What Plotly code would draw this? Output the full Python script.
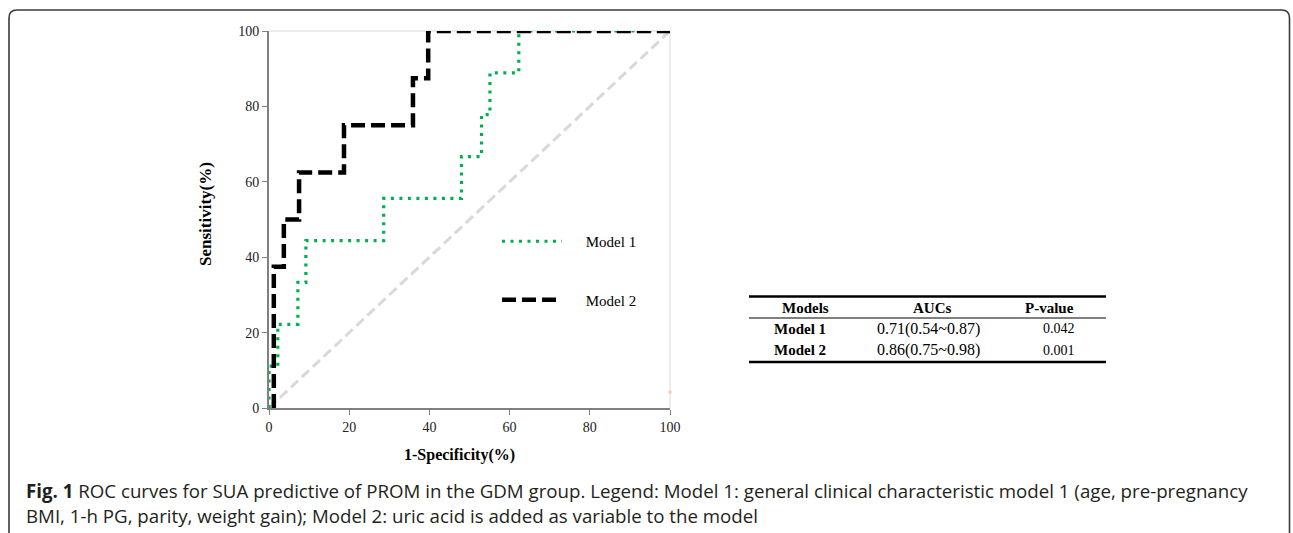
import plotly.graph_objects as go

# ---------------- data ----------------
m1_fpr = [0, 0, 2.2, 2.2, 7.2, 7.2, 9.2, 9.2, 28.6, 28.6, 48.0, 48.0, 53.0, 53.0, 55.1, 55.1, 62.3, 62.3, 100]
m1_sens = [0, 11.1, 11.1, 22.2, 22.2, 33.3, 33.3, 44.4, 44.4, 55.6, 55.6, 66.7, 66.7, 77.8, 77.8, 88.9, 88.9, 100, 100]

m2_fpr = [1.2, 1.2, 3.7, 3.7, 7.5, 7.5, 18.7, 18.7, 35.9, 35.9, 39.7, 39.7, 100]
m2_sens = [0, 37.5, 37.5, 50, 50, 62.5, 62.5, 75, 75, 87.5, 87.5, 100, 100]

ref_x = [0, 100]
ref_y = [0, 100]

stray_x = [100]
stray_y = [4.2]

tick_vals = [0, 20, 40, 60, 80, 100]
tick_text = ["0", "20", "40", "60", "80", "100"]

series_names = ["Model 1", "Model 2"]

table_header = ["Models", "AUCs", "P-value"]
table_models = ["Model 1", "Model 2"]
table_aucs = ["0.71(0.54~0.87)", "0.86(0.75~0.98)"]
table_p = ["0.042", "0.001"]

caption_line1 = ("<b>Fig. 1</b> ROC curves for SUA predictive of PROM in the GDM group. Legend: Model 1: "
                 "general clinical characteristic model 1 (age, pre-pregnancy")
caption_line2 = "BMI, 1-h PG, parity, weight gain); Model 2: uric acid is added as variable to the model"

# ---------------- layout geometry ----------------
W, H = 1293, 533
PL, PR, PT, PB = 269, 670, 31, 408  # plot area in pixels


def px(x):
    return (x - PL) / (PR - PL)


def py(y):
    return (PB - y) / (PB - PT)


SERIF = "Liberation Serif, Times New Roman, serif"
PAD = "\u00a0" * 5

fig = go.Figure()

fig.add_trace(go.Scatter(
    x=ref_x, y=ref_y, mode="lines", showlegend=False, hoverinfo="skip",
    line=dict(color="#d9d9d9", width=3, dash="10px,5px")))

fig.add_trace(go.Scatter(
    x=m1_fpr, y=m1_sens, mode="lines", name=PAD + series_names[0], legendgroup="g1",
    line=dict(color="#00b050", width=3.2, dash="3px,5.5px")))

fig.add_trace(go.Scatter(
    x=m2_fpr, y=m2_sens, mode="lines", name=PAD + series_names[1], legendgroup="g2",
    line=dict(color="#000000", width=4.5, dash="14px,6px")))

fig.add_trace(go.Scatter(
    x=stray_x, y=stray_y, mode="markers", showlegend=False, hoverinfo="skip", cliponaxis=False,
    marker=dict(color="#f8cbad", size=3, symbol="square")))

axis_common = dict(
    showgrid=False, zeroline=False, showline=True, linecolor="#808080", linewidth=2,
    ticks="outside", ticklen=5, tickcolor="#808080", tickwidth=1,
    tickfont=dict(family=SERIF, size=14, color="#222222"),
    tickvals=tick_vals, ticktext=tick_text, fixedrange=True,
)

fig.update_xaxes(range=[0, 100], **axis_common)
fig.update_yaxes(range=[0, 100], **axis_common)

shapes = []
# light top/right borders of plot area
shapes.append(dict(type="line", xref="paper", yref="paper", x0=0, x1=1, y0=1, y1=1,
                   line=dict(color="#d9d9d9", width=1), layer="below"))
shapes.append(dict(type="line", xref="paper", yref="paper", x0=1, x1=1, y0=0, y1=1,
                   line=dict(color="#d9d9d9", width=1), layer="below"))

# table rules
TX0, TX1 = 749, 1106
for yy, w in [(296.5, 2.5), (318, 1), (362, 2.5)]:
    shapes.append(dict(type="line", xref="paper", yref="paper", x0=px(TX0), x1=px(TX1),
                       y0=py(yy), y1=py(yy), line=dict(color="#000000", width=w)))

# rounded frame around the figure
r = 8
fx0, fx1, fy0, fyb = 9, 1289.5, 10, 560
path = (f"M {px(fx0)},{py(fyb)} L {px(fx0)},{py(fy0 + r)} "
        f"Q {px(fx0)},{py(fy0)} {px(fx0 + r)},{py(fy0)} "
        f"L {px(fx1 - r)},{py(fy0)} "
        f"Q {px(fx1)},{py(fy0)} {px(fx1)},{py(fy0 + r)} "
        f"L {px(fx1)},{py(fyb)}")
shapes.append(dict(type="path", xref="paper", yref="paper", path=path,
                   line=dict(color="#3a3a3a", width=1.6)))

annotations = []
# axis titles
annotations.append(dict(text="<b>1-Specificity(%)</b>", xref="paper", yref="paper",
                        x=px(459), y=py(455), showarrow=False, xanchor="center", yanchor="middle",
                        font=dict(family=SERIF, size=16, color="#000000")))
annotations.append(dict(text="<b>Sensitivity(%)</b>", xref="paper", yref="paper",
                        x=px(205), y=py(214), showarrow=False, xanchor="center", yanchor="middle",
                        textangle=-90, font=dict(family=SERIF, size=17, color="#000000")))

# table text
col_x = [805, 932, 1049]
val_x = [800, 928, 1059]
TFONT = dict(family=SERIF, size=15, color="#000000")
for i, h in enumerate(table_header):
    annotations.append(dict(text=f"<b>{h}</b>", xref="paper", yref="paper", x=px(col_x[i]), y=py(307.5),
                            showarrow=False, xanchor="center", yanchor="middle", font=TFONT))
for i, yy in enumerate([328.5, 350]):
    annotations.append(dict(text=f"<b>{table_models[i]}</b>", xref="paper", yref="paper", x=px(val_x[0]), y=py(yy),
                            showarrow=False, xanchor="center", yanchor="middle", font=TFONT))
    annotations.append(dict(text=table_aucs[i], xref="paper", yref="paper", x=px(val_x[1]), y=py(yy),
                            showarrow=False, xanchor="center", yanchor="middle",
                            font=dict(family=SERIF, size=16, color="#000000")))
    annotations.append(dict(text=table_p[i], xref="paper", yref="paper", x=px(val_x[2]), y=py(yy),
                            showarrow=False, xanchor="center", yanchor="middle",
                            font=dict(family=SERIF, size=14, color="#000000")))

# caption
CAP_FONT = dict(family="Open Sans, Noto Sans, sans-serif", size=18.7, color="#231f20")
annotations.append(dict(text=caption_line1, xref="paper", yref="paper", x=px(24), y=py(490),
                        showarrow=False, xanchor="left", yanchor="middle", font=CAP_FONT))
annotations.append(dict(text=caption_line2, xref="paper", yref="paper", x=px(24), y=py(515),
                        showarrow=False, xanchor="left", yanchor="middle", font=CAP_FONT))

fig.update_layout(
    width=W, height=H,
    margin=dict(l=PL, r=W - PR, t=PT, b=H - PB, autoexpand=False),
    paper_bgcolor="white", plot_bgcolor="white",
    showlegend=True,
    legend=dict(x=px(497), y=py(225), xanchor="left", yanchor="top",
                bgcolor="rgba(0,0,0,0)", borderwidth=0,
                font=dict(family=SERIF, size=15, color="#000000"),
                traceorder="grouped", tracegroupgap=36, itemwidth=60),
    shapes=shapes, annotations=annotations,
)

fig.write_html("out.html", config={"displayModeBar": False},
               post_script="document.body.style.margin='0';")
